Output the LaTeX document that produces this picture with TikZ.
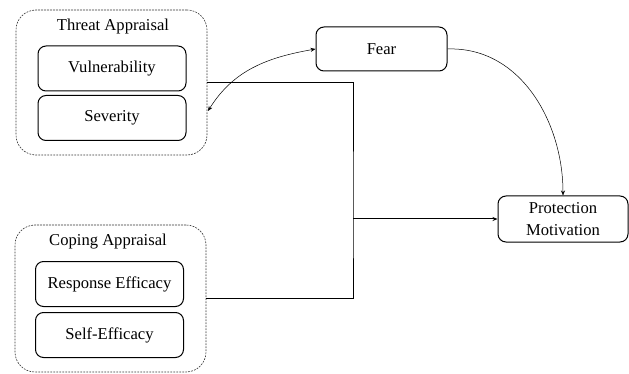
\documentclass[tikz,border=0pt]{standalone}
\usepackage{fontspec}
\setmainfont{Liberation Serif}
\usetikzlibrary{arrows.meta}
\begin{document}
\begin{tikzpicture}[x=1pt,y=-1pt,
  inbox/.style={draw, line width=1pt, rounded corners=8pt, minimum width=148pt, minimum height=45pt, inner sep=0pt, font=\fontsize{16.6}{19}\selectfont},
  group/.style={draw=black!80, line width=0.6pt, dash pattern=on 1.8pt off 1.2pt, rounded corners=20pt, inner sep=0pt},
  grouptitle/.style={font=\fontsize{16.6}{19}\selectfont, inner sep=0pt},
  conn/.style={line width=1pt},
  thin/.style={line width=0.5pt},
  tip/.style={-{Stealth[length=5pt,width=4pt]}}
]
\useasboundingbox (0,0) rectangle (629,374);
% Threat appraisal group
\node[group, minimum width=191pt, minimum height=145pt] (threat) at (111.5,82.5) {};
\node[grouptitle] (tt) at (113,27) {Threat Appraisal};
\node[inbox] (vul) at (112,68.5) {Vulnerability};
\node[inbox] (sev) at (112,118) {Severity};
% Coping appraisal group
\node[group, minimum width=191pt, minimum height=147pt] (coping) at (110.5,298.5) {};
\node[grouptitle] (ct) at (108,242) {Coping Appraisal};
\node[inbox] (re) at (109.5,284) {Response Efficacy};
\node[inbox] (se) at (109.5,335) {Self-Efficacy};
% Fear and PM
\node[inbox, minimum width=131pt, minimum height=44pt] (fear) at (381.5,49) {Fear};
\node[inbox, minimum width=130pt, minimum height=46pt, align=center, font=\fontsize{16.6}{22}\selectfont] (pm) at (563,219) {Protection\\Motivation};
% connectors
\coordinate (j) at (353,219);
\coordinate (sv) at (208,111);
\draw[conn] (threat.east) -| (j) |- (coping.east);
\draw[conn, tip] (j) -- (pm.west);
\draw[thin, {Stealth[length=5pt,width=4pt]}-{Stealth[length=5pt,width=4pt]}] (sv) to[out=58, in=190] (fear.west);
\draw[thin, tip] (fear.east) to[out=2, in=90] (pm.north);
\end{tikzpicture}
\end{document}
